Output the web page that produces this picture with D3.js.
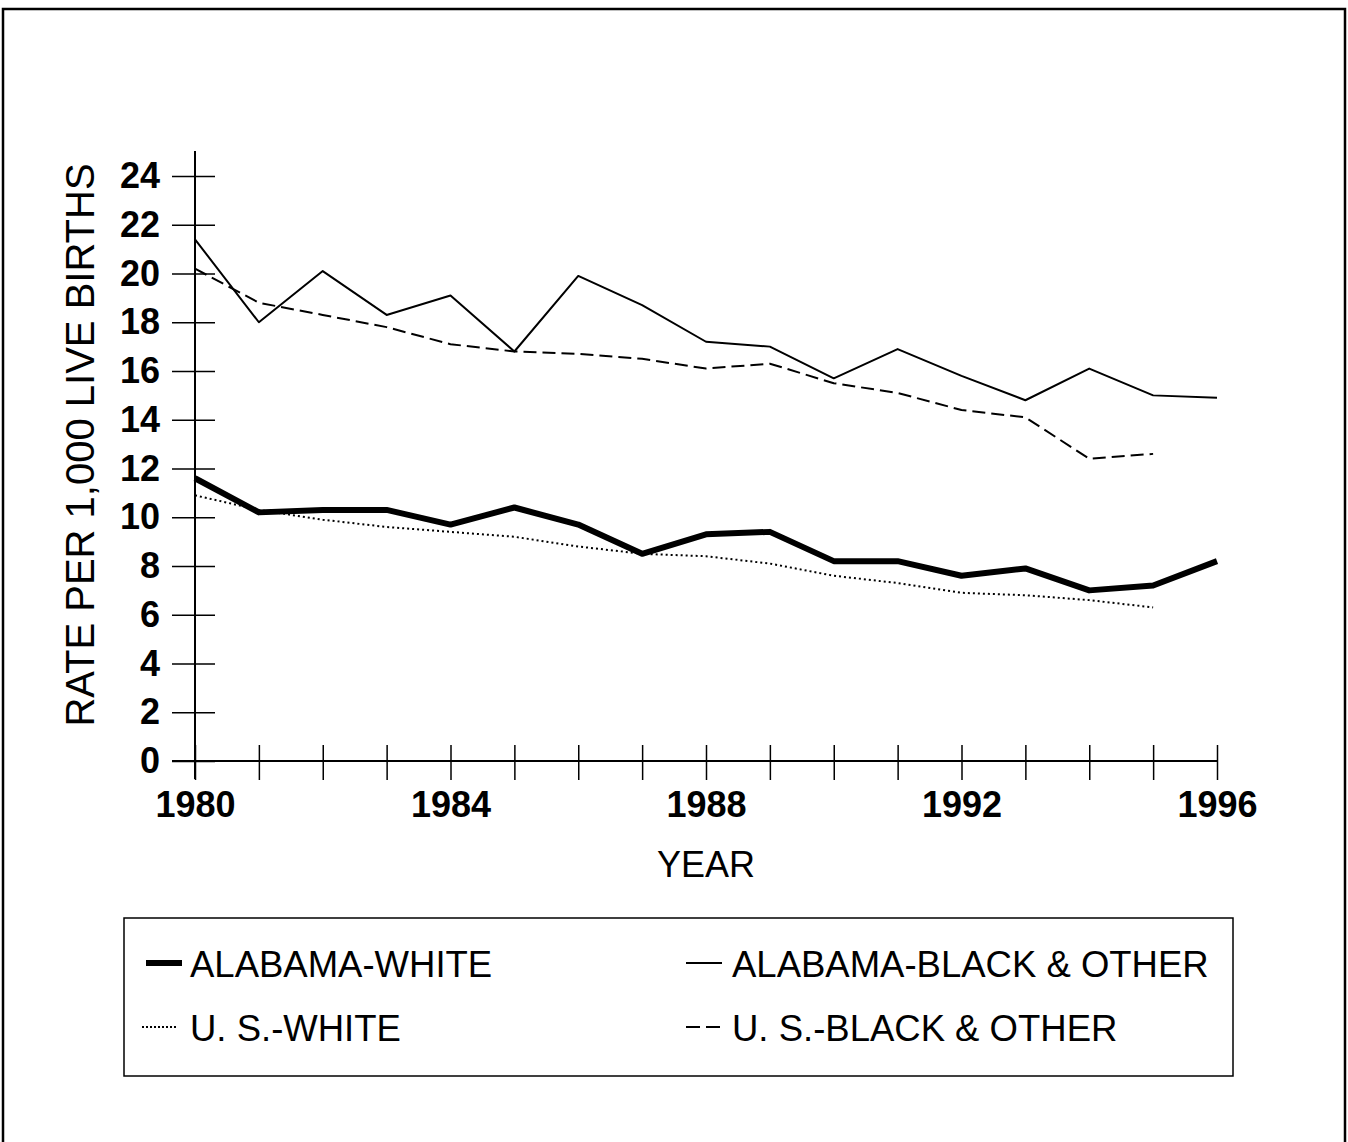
<!DOCTYPE html>
<html>
<head>
<meta charset="utf-8">
<script src="https://cdn.jsdelivr.net/npm/d3@7"></script>
<style>
  body { margin: 0; background: #fff; }
  text { font-family: "Liberation Sans", Arial, sans-serif; fill: #000; }
</style>
</head>
<body>
<div id="chart"></div>
<script>
// years on the x axis
var years = d3.range(1980, 1997);
var yearLabels = [1980, 1984, 1988, 1992, 1996];
var yTicks = [0, 2, 4, 6, 8, 10, 12, 14, 16, 18, 20, 22, 24];

// infant mortality rate per 1,000 live births
var alabamaWhite = [11.6, 10.2, 10.3, 10.3, 9.7, 10.4, 9.7, 8.5, 9.3, 9.4, 8.2, 8.2, 7.6, 7.9, 7.0, 7.2, 8.2];
var alabamaBlack = [21.4, 18.0, 20.1, 18.3, 19.1, 16.8, 19.9, 18.7, 17.2, 17.0, 15.7, 16.9, 15.8, 14.8, 16.1, 15.0, 14.9];
var usWhite = [10.9, 10.3, 9.9, 9.6, 9.4, 9.2, 8.8, 8.5, 8.4, 8.1, 7.6, 7.3, 6.9, 6.8, 6.6, 6.3];
var usBlack = [20.2, 18.8, 18.3, 17.8, 17.1, 16.8, 16.7, 16.5, 16.1, 16.3, 15.5, 15.1, 14.4, 14.1, 12.4, 12.6];

var series = [
  {name: "ALABAMA-WHITE", values: alabamaWhite, width: 6, dash: null},
  {name: "ALABAMA-BLACK & OTHER", values: alabamaBlack, width: 2, dash: null},
  {name: "U. S.-WHITE", values: usWhite, width: 2, dash: "2,3"},
  {name: "U. S.-BLACK & OTHER", values: usBlack, width: 2, dash: "13,6"}
];

var width = 1348, height = 1142;

var svg = d3.select("#chart").append("svg")
  .attr("width", width)
  .attr("height", height);

// page frame
svg.append("rect")
  .attr("x", 3).attr("y", 9)
  .attr("width", 1342).attr("height", 1145)
  .attr("fill", "none")
  .attr("stroke", "#000")
  .attr("stroke-width", 2.5);

var x = d3.scaleLinear().domain([1980, 1996]).range([195, 1217]);
var y = d3.scaleLinear().domain([0, 24]).range([761, 176]);

// y ticks (cross the axis line)
var yAxis = d3.axisLeft(y)
  .tickValues(yTicks)
  .tickSize(43)
  .tickPadding(12);

svg.append("g")
  .attr("transform", "translate(215,0)")
  .call(yAxis)
  .call(function(g) { g.select(".domain").remove(); })
  .call(function(g) {
    g.selectAll("line").attr("stroke", "#000").attr("stroke-width", 1.5);
    g.selectAll("text")
      .style("font-family", "'Liberation Sans', Arial, sans-serif")
      .style("font-size", "36px")
      .style("font-weight", "bold");
  });

// x ticks
var xAxis = d3.axisBottom(x)
  .tickValues(years)
  .tickSize(35)
  .tickPadding(11)
  .tickFormat(function(d) { return yearLabels.indexOf(d) >= 0 ? d : ""; });

svg.append("g")
  .attr("transform", "translate(0,745)")
  .call(xAxis)
  .call(function(g) { g.select(".domain").remove(); })
  .call(function(g) {
    g.selectAll("line").attr("stroke", "#000").attr("stroke-width", 1.5);
    g.selectAll("text")
      .style("font-family", "'Liberation Sans', Arial, sans-serif")
      .style("font-size", "36px")
      .style("font-weight", "bold");
  });

// axis lines
svg.append("line")
  .attr("x1", 195).attr("x2", 195)
  .attr("y1", 151).attr("y2", 779)
  .attr("stroke", "#000").attr("stroke-width", 2);

svg.append("line")
  .attr("x1", 172).attr("x2", 1217)
  .attr("y1", 761).attr("y2", 761)
  .attr("stroke", "#000").attr("stroke-width", 2);

// axis titles
svg.append("text")
  .attr("x", 706).attr("y", 877)
  .attr("text-anchor", "middle")
  .style("font-size", "36px")
  .text("YEAR");

svg.append("text")
  .attr("transform", "translate(94,445) rotate(-90)")
  .attr("text-anchor", "middle")
  .style("font-size", "40px")
  .text("RATE PER 1,000 LIVE BIRTHS");

// lines
var line = d3.line()
  .x(function(d, i) { return x(years[i]); })
  .y(function(d) { return y(d); });

svg.selectAll(".series")
  .data(series)
  .enter().append("path")
  .attr("class", "series")
  .attr("d", function(d) { return line(d.values); })
  .attr("fill", "none")
  .attr("stroke", "#000")
  .attr("stroke-width", function(d) { return d.width; })
  .attr("stroke-dasharray", function(d) { return d.dash; })
  .attr("stroke-linejoin", "round");

// legend
svg.append("rect")
  .attr("x", 124).attr("y", 918)
  .attr("width", 1109).attr("height", 158)
  .attr("fill", "none")
  .attr("stroke", "#000")
  .attr("stroke-width", 1.5);

var legendPos = [
  {lx: 146, tx: 190, ty: 977},
  {lx: 686, tx: 732, ty: 977},
  {lx: 142, tx: 190, ty: 1041},
  {lx: 686, tx: 732, ty: 1041}
];

var legend = svg.selectAll(".legend")
  .data(series)
  .enter().append("g")
  .attr("class", "legend");

legend.append("line")
  .attr("x1", function(d, i) { return legendPos[i].lx; })
  .attr("x2", function(d, i) { return legendPos[i].lx + 36; })
  .attr("y1", function(d, i) { return legendPos[i].ty - 14; })
  .attr("y2", function(d, i) { return legendPos[i].ty - 14; })
  .attr("stroke", "#000")
  .attr("stroke-width", function(d) { return d.width; })
  .attr("stroke-dasharray", function(d) { return d.dash ? (d.width === 2 && d.dash === "2,3" ? "2,2" : "14,6") : null; });

legend.append("text")
  .attr("x", function(d, i) { return legendPos[i].tx; })
  .attr("y", function(d, i) { return legendPos[i].ty; })
  .style("font-size", "36.5px")
  .text(function(d) { return d.name; });
</script>
</body>
</html>
